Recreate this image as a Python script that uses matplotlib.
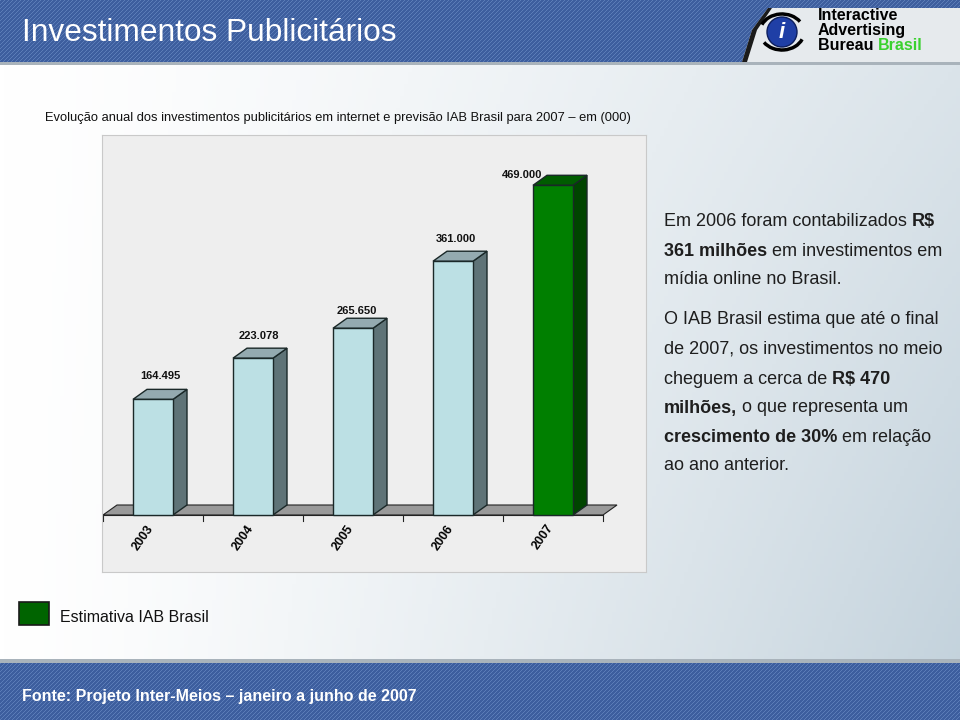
import numpy as np
import matplotlib
matplotlib.use("Agg")
import matplotlib.pyplot as plt
from matplotlib.patches import Polygon, Rectangle, Circle, Arc

# data
years = ["2003", "2004", "2005", "2006", "2007"]
values = [164.495, 223.078, 265.650, 361.000, 469.000]
value_labels = ["164.495", "223.078", "265.650", "361.000", "469.000"]
estimate = [False, False, False, False, True]

title = "Investimentos Publicitários"
subtitle = "Evolução anual dos investimentos publicitários em internet e previsão IAB Brasil para 2007 – em (000)"
legend_label = "Estimativa IAB Brasil"
source = "Fonte: Projeto Inter-Meios – janeiro a junho de 2007"

# right-hand comment, each line as (text, bold) pieces
note_lines = [
    [("Em 2006 foram contabilizados ", False), ("R$", True)],
    [("361 milhões", True), (" em investimentos em", False)],
    [("mídia online no Brasil.", False)],
    None,
    [("O IAB Brasil estima que até o final", False)],
    [("de 2007, os investimentos no meio", False)],
    [("cheguem a cerca de ", False), ("R$ 470", True)],
    [("milhões,", True), (" o que representa um", False)],
    [("crescimento de 30%", True), (" em relação", False)],
    [("ao ano anterior.", False)],
]

plt.rcParams["font.family"] = ["Liberation Sans", "DejaVu Sans"]

W, H = 960, 720
fig = plt.figure(figsize=(9.6, 7.2), dpi=100)

# ---- page background in pixel coordinates
bg = fig.add_axes([0, 0, 1, 1])
bg.set_xlim(0, W)
bg.set_ylim(H, 0)
bg.axis("off")

xx, yy = np.meshgrid(np.linspace(0, 1, 240), np.linspace(0, 1, 180))
t = (xx ** 1.3) * (0.55 + 0.45 * yy)
light = np.array([1.0, 1.0, 1.0])
dark = np.array([0.76, 0.82, 0.86])
grad = light * (1 - t[..., None]) + dark * t[..., None]
bg.imshow(grad, extent=[0, W, H, 0], aspect="auto", zorder=0)

# striped blue bands (header and footer)
def stripes(h, w):
    yy2, xx2 = np.mgrid[0:h, 0:w]
    s = ((xx2 + yy2) % 4 < 1).astype(float)
    base = np.array([0.24, 0.37, 0.62])
    hi = np.array([0.36, 0.49, 0.72])
    return base * (1 - s[..., None]) + hi * s[..., None]

bg.imshow(stripes(62, 960), extent=[0, W, 62, 0], aspect="auto", zorder=1,
          interpolation="nearest")
bg.imshow(stripes(57, 960), extent=[0, W, H, 663], aspect="auto", zorder=1,
          interpolation="nearest")
bg.add_patch(Rectangle((0, 62), W, 3, color="#a9b3bb", zorder=2, lw=0))
bg.add_patch(Rectangle((0, 659), W, 4, color="#a9b3bb", zorder=2, lw=0))

bg.text(22, 33, title, color="white", fontsize=22.8, va="center", ha="left", zorder=3)

# logo block
logo = Polygon([(742, 62), (752, 30), (768, 8), (960, 8), (960, 62)],
               closed=True, facecolor="#e6eaed", edgecolor="none", zorder=2)
bg.add_patch(logo)
bg.add_patch(Polygon([(742, 62), (752, 30), (768, 8), (772, 8), (757, 30), (747, 62)],
                     closed=True, facecolor="#1b1b1b", edgecolor="none", zorder=3))
bg.add_patch(Circle((782, 32), 15, facecolor="#1f3fa6", edgecolor="#0d1f5e", lw=1, zorder=3))
bg.add_patch(Arc((782, 32), 44, 36, theta1=200, theta2=330, color="black", lw=2.5, zorder=3))
bg.add_patch(Arc((782, 32), 44, 36, theta1=20, theta2=150, color="black", lw=2.5, zorder=3))
bg.text(782, 33, "i", color="white", fontsize=16, fontweight="bold", style="italic",
        ha="center", va="center", zorder=4)
bg.text(818, 16, "Interactive", fontsize=11.5, fontweight="bold", va="center", zorder=4)
bg.text(818, 30.5, "Advertising", fontsize=11.5, fontweight="bold", va="center", zorder=4)
b = bg.text(818, 45, "Bureau ", fontsize=11.5, fontweight="bold", va="center", zorder=4)
fig.canvas.draw()
bb = b.get_window_extent()
bg.text(818 + bb.width, 45, "Brasil", fontsize=11.5, fontweight="bold", color="#3ad12f",
        va="center", zorder=4)

bg.text(45, 118, subtitle, fontsize=9.3, va="center", ha="left", color="#111111")

# ---- chart box
px_per_unit = 0.703
base_px = 515
ax = fig.add_axes([102 / W, 1 - 572 / H, (646 - 102) / W, (572 - 135) / H])
ax.set_xlim(-0.51, 4.93)
ax.set_ylim(-(572 - base_px) / px_per_unit, (base_px - 135) / px_per_unit)
ax.set_facecolor("#eeeeee")
for s in ax.spines.values():
    s.set_color("#c9c9c9")
ax.set_xticks([])
ax.set_yticks([])

dx = 0.14
dy = 10 / px_per_unit
bw = 0.4

# floor
ax.add_patch(Polygon([(-0.5, 0), (4.5, 0), (4.5 + dx, dy), (-0.5 + dx, dy)],
                     closed=True, facecolor="#999999", edgecolor="#222222", lw=0.8, zorder=1))
ax.plot([-0.5, 4.5], [0, 0], color="#222222", lw=0.8, zorder=2)
for k in range(len(years) + 1):
    ax.plot([k - 0.5, k - 0.5], [0, -6 / px_per_unit], color="#222222", lw=0.8, zorder=2)

label_dy_px = [23, 22, 17, 22, 10]
label_dx = [0.07, 0.06, 0.04, 0.03, -0.31]
for i, (v, lab, est) in enumerate(zip(values, value_labels, estimate)):
    if est:
        front, side, top = "#007f00", "#004400", "#005c00"
    else:
        front, side, top = "#bce0e4", "#5f7377", "#94aab0"
    x0, x1 = i - bw / 2, i + bw / 2
    ec = "#1a2828"
    ax.add_patch(Polygon([(x1, 0), (x1 + dx, dy), (x1 + dx, v + dy), (x1, v)],
                         closed=True, facecolor=side, edgecolor=ec, lw=1, zorder=3))
    ax.add_patch(Polygon([(x0, v), (x1, v), (x1 + dx, v + dy), (x0 + dx, v + dy)],
                         closed=True, facecolor=top, edgecolor=ec, lw=1, zorder=3))
    ax.add_patch(Rectangle((x0, 0), bw, v, facecolor=front, edgecolor=ec, lw=1, zorder=4))
    ax.text(i + label_dx[i], v + label_dy_px[i] / px_per_unit, lab, fontsize=8,
            fontweight="bold", ha="center", va="center", color="#111111", zorder=5)
    ax.text(i - 0.02, -11 / px_per_unit, years[i], fontsize=9, fontweight="bold",
            rotation=55, rotation_mode="anchor", ha="right", va="center", zorder=5)

# ---- right-hand note
def draw_segments(x, y, pieces):
    for txt, bold in pieces:
        t_ = bg.text(x, y, txt, fontsize=13, fontweight="bold" if bold else "normal",
                     va="center", ha="left", color="#1e1e1e")
        fig.canvas.draw()
        ext = t_.get_window_extent()
        x += ext.width

ys = [221, 251, 280, 300, 320, 349, 379, 408, 437, 466]
for y, line in zip(ys, note_lines):
    if line:
        draw_segments(664, y, line)

# ---- legend
bg.add_patch(Rectangle((19, 602), 30, 23, facecolor="#006400", edgecolor="#1a1a1a", lw=1.2, zorder=3))
bg.text(60, 617, legend_label, fontsize=11.5, va="center", color="#111111")

# ---- footer
bg.text(22, 697, source, fontsize=11.5, fontweight="bold", color="white", va="center")

fig.savefig("out.png", dpi=100)
